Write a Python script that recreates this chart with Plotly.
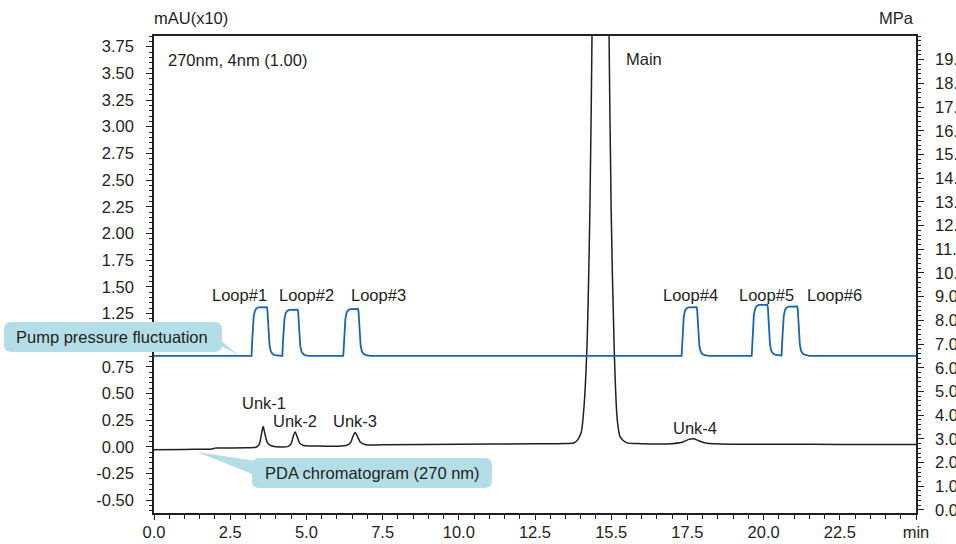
import plotly.graph_objects as go

# ---------------- data ----------------
x_tick_vals = [0, 2.5, 5, 7.5, 10, 12.5, 15, 17.5, 20, 22.5, 25]
x_tick_text = ["0.0", "2.5", "5.0", "7.5", "10.0", "12.5", "15.5", "17.5", "20.0", "22.5", "min"]

# the 1.00 label is hidden behind the "Pump pressure fluctuation" callout in the reference
left_tick_vals = [-0.5, -0.25, 0, 0.25, 0.5, 0.75, 1.0, 1.25, 1.5, 1.75, 2.0,
                  2.25, 2.5, 2.75, 3.0, 3.25, 3.5, 3.75]
left_tick_text = ["-0.50", "-0.25", "0.00", "0.25", "0.50", "0.75", "", "1.25",
                  "1.50", "1.75", "2.00", "2.25", "2.50", "2.75", "3.00", "3.25",
                  "3.50", "3.75"]

right_tick_vals = list(range(0, 20))
right_tick_text = ["%.1f" % v for v in right_tick_vals]

# PDA chromatogram (270 nm), mAU(x10)
pda_time = [0.0, 1.0, 1.9, 2.0, 2.1, 3.0, 3.35, 3.45, 3.52, 3.58, 3.64, 3.72, 3.85,
            4.0, 4.4, 4.5, 4.57, 4.63, 4.69, 4.78, 4.9, 5.2, 6.3, 6.45, 6.53, 6.6,
            6.67, 6.78, 6.95, 7.5, 10.0, 12.5, 13.5, 13.8, 14.0, 14.1, 14.2, 14.3,
            14.37, 14.45, 14.65, 14.85, 14.93, 15.0, 15.1, 15.2, 15.3, 15.5, 16.0,
            17.0, 17.3, 17.55, 17.7, 17.85, 18.1, 18.4, 19.0, 20.5, 22.5, 25.0]
pda_signal = [-0.028, -0.024, -0.02, -0.012, -0.012, -0.008, -0.004, 0.02, 0.11, 0.19,
              0.12, 0.04, 0.01, 0.002, 0.004, 0.03, 0.1, 0.14, 0.1, 0.035, 0.012,
              0.008, 0.012, 0.04, 0.1, 0.134, 0.1, 0.04, 0.02, 0.019, 0.024, 0.028,
              0.032, 0.04, 0.12, 0.35, 0.9, 2.2, 3.85, 6.5, 9.8, 6.5, 3.85, 2.2, 0.9,
              0.25, 0.09, 0.04, 0.03, 0.03, 0.04, 0.07, 0.075, 0.06, 0.035, 0.028,
              0.025, 0.024, 0.023, 0.022]

# Pump pressure, MPa
pump_time = [0.00,
             3.20, 3.22, 3.24, 3.27, 3.31, 3.36, 3.43, 3.70, 3.72, 3.74, 3.76, 3.79, 3.83, 3.89, 3.97, 4.10,
             4.21, 4.23, 4.25, 4.28, 4.32, 4.37, 4.44, 4.71, 4.73, 4.75, 4.77, 4.80, 4.84, 4.90, 4.98, 5.10,
             6.21, 6.23, 6.25, 6.28, 6.32, 6.37, 6.44, 6.69, 6.71, 6.73, 6.75, 6.78, 6.82, 6.88, 6.96, 7.10,
             17.31, 17.33, 17.35, 17.38, 17.42, 17.47, 17.54, 17.80, 17.82, 17.84, 17.86, 17.89, 17.93, 17.99, 18.07, 18.20,
             19.61, 19.63, 19.65, 19.68, 19.72, 19.77, 19.84, 20.12, 20.14, 20.16, 20.18, 20.21, 20.25, 20.31, 20.40, 20.59,
             20.61, 20.63, 20.66, 20.70, 20.75, 20.82, 21.10, 21.12, 21.14, 21.16, 21.19, 21.23, 21.29, 21.37, 21.50,
             25.00]
pump_pressure = [6.50,
                 6.50, 7.10, 7.70, 8.15, 8.40, 8.50, 8.55, 8.56, 8.45, 8.00, 7.40, 6.95, 6.70, 6.58, 6.53, 6.50,
                 6.50, 7.05, 7.60, 8.05, 8.30, 8.40, 8.44, 8.45, 8.35, 7.90, 7.30, 6.90, 6.68, 6.57, 6.52, 6.50,
                 6.50, 7.05, 7.60, 8.07, 8.33, 8.43, 8.47, 8.48, 8.38, 7.92, 7.32, 6.92, 6.69, 6.58, 6.53, 6.50,
                 6.50, 7.10, 7.70, 8.15, 8.40, 8.50, 8.55, 8.56, 8.45, 8.00, 7.40, 6.95, 6.70, 6.58, 6.53, 6.50,
                 6.50, 7.10, 7.75, 8.22, 8.48, 8.60, 8.65, 8.66, 8.55, 8.08, 7.45, 6.98, 6.72, 6.60, 6.54, 6.52,
                 7.10, 7.70, 8.17, 8.43, 8.53, 8.58, 8.59, 8.48, 8.02, 7.42, 6.96, 6.71, 6.59, 6.54, 6.50,
                 6.50]

loop_labels = ["Loop#1", "Loop#2", "Loop#3", "Loop#4", "Loop#5", "Loop#6"]
loop_label_x = [2.79, 5.01, 7.38, 17.61, 20.11, 22.31]
loop_label_y = [9.07, 9.07, 9.07, 9.07, 9.07, 9.07]   # MPa axis

unk_labels = ["Unk-1", "Unk-2", "Unk-3", "Unk-4", "Main"]
unk_label_x = [3.6, 4.63, 6.6, 17.75, 16.09]
unk_label_y = [0.41, 0.24, 0.24, 0.18, 3.63]          # mAU(x10) axis

# ---------------- layout geometry ----------------
W, H = 956, 544
ML, MR, MT, MB = 154, 40, 36, 31
PW, PH = W - ML - MR, H - MT - MB

TXT = "#231f20"
FONT = "Liberation Sans, Arial, Helvetica, sans-serif"
BOX = "#b4dee7"
BLUE = "#1565b8"
FS = 16.5


def px(x):
    return (x - ML) / PW


def py(y):
    return (H - MB - y) / PH


def round_rect(x0, y0, x1, y1, r):
    pts = ["M %f %f" % (px(x0 + r), py(y0)),
           "L %f %f" % (px(x1 - r), py(y0)),
           "Q %f %f %f %f" % (px(x1), py(y0), px(x1), py(y0 + r)),
           "L %f %f" % (px(x1), py(y1 - r)),
           "Q %f %f %f %f" % (px(x1), py(y1), px(x1 - r), py(y1)),
           "L %f %f" % (px(x0 + r), py(y1)),
           "Q %f %f %f %f" % (px(x0), py(y1), px(x0), py(y1 - r)),
           "L %f %f" % (px(x0), py(y0 + r)),
           "Q %f %f %f %f" % (px(x0), py(y0), px(x0 + r), py(y0)),
           "Z"]
    return " ".join(pts)


def tri(p1, p2, p3):
    return "M %f %f L %f %f L %f %f Z" % (px(p1[0]), py(p1[1]), px(p2[0]), py(p2[1]),
                                          px(p3[0]), py(p3[1]))


fig = go.Figure()

fig.add_trace(go.Scatter(x=pda_time, y=pda_signal, mode="lines",
                         line=dict(color="#231f20", width=1.5, shape="spline", smoothing=0.8),
                         hoverinfo="skip", showlegend=False))
fig.add_trace(go.Scatter(x=pump_time, y=pump_pressure, mode="lines", yaxis="y2",
                         line=dict(color=BLUE, width=1.8),
                         hoverinfo="skip", showlegend=False))

lab_font = dict(size=FS, color=TXT, family=FONT)
annotations = []
for t, x, y in zip(loop_labels, loop_label_x, loop_label_y):
    annotations.append(dict(x=x, y=y, xref="x", yref="y2", text=t, showarrow=False,
                            xanchor="center", yanchor="middle", font=lab_font))
for t, x, y in zip(unk_labels, unk_label_x, unk_label_y):
    annotations.append(dict(x=x, y=y, xref="x", yref="y", text=t, showarrow=False,
                            xanchor="center", yanchor="middle", font=lab_font))


def paper_text(x, y, text, xanchor="center"):
    return dict(x=px(x), y=py(y), xref="paper", yref="paper", text=text, showarrow=False,
                xanchor=xanchor, yanchor="middle", font=lab_font)


annotations += [
    paper_text(166, 60, "270nm, 4nm (1.00)", xanchor="left"),
    paper_text(191, 18, "mAU(x10)"),
    paper_text(896, 18, "MPa"),
    paper_text(112, 337, "Pump pressure fluctuation"),
    paper_text(372, 473, "PDA chromatogram (270 nm)"),
]

shapes = [
    dict(type="path", xref="paper", yref="paper", layer="above", line=dict(width=0),
         fillcolor=BOX, path=round_rect(4, 322, 222, 352, 7)),
    dict(type="path", xref="paper", yref="paper", layer="above", line=dict(width=0),
         fillcolor=BOX, path=tri((206, 338), (218, 338), (238, 355))),
    dict(type="path", xref="paper", yref="paper", layer="above", line=dict(width=0),
         fillcolor=BOX, path=round_rect(252, 458, 492, 488, 7)),
    dict(type="path", xref="paper", yref="paper", layer="above", line=dict(width=0),
         fillcolor=BOX, path=tri((197, 452), (262, 462), (262, 478))),
]

axis_common = dict(showgrid=False, zeroline=False, showline=True, linecolor="#231f20",
                   linewidth=1.5, ticks="outside", tickwidth=1.2, tickcolor="#231f20",
                   tickfont=dict(size=FS, color=TXT, family=FONT), automargin=False)

fig.update_layout(
    width=W, height=H,
    margin=dict(l=ML, r=MR, t=MT, b=MB, pad=0, autoexpand=False),
    paper_bgcolor="white", plot_bgcolor="white",
    font=dict(family=FONT, size=FS, color=TXT),
    annotations=annotations, shapes=shapes,
    xaxis=dict(range=[0, 25], tickmode="array", tickvals=x_tick_vals, ticktext=x_tick_text,
               mirror=True, ticklen=5, ticklabelstandoff=-2,
               minor=dict(dtick=0.5, tick0=0, ticks="outside", ticklen=4, tickwidth=1,
                          tickcolor="#231f20"), **axis_common),
    yaxis=dict(range=[-0.62, 3.85], tickmode="array", tickvals=left_tick_vals,
               ticktext=left_tick_text, ticklen=6, ticklabelstandoff=9,
               minor=dict(dtick=0.05, tick0=0, ticks="outside", ticklen=3, tickwidth=1,
                          tickcolor="#231f20"), **axis_common),
    yaxis2=dict(range=[-0.13, 20.0], overlaying="y", side="right", tickmode="array",
                tickvals=right_tick_vals, ticktext=right_tick_text, ticklen=6,
                ticklabelstandoff=8,
                minor=dict(dtick=0.2, tick0=0, ticks="outside", ticklen=3, tickwidth=1,
                           tickcolor="#231f20"), **axis_common),
)

fig.write_html("out.html", config={"displayModeBar": False},
               post_script="document.body.style.margin='0';document.body.style.overflow='hidden';")
